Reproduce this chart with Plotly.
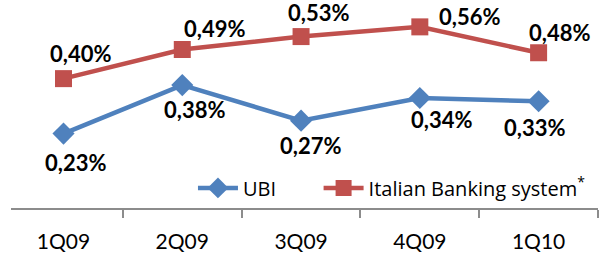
import plotly.graph_objects as go

quarters = ["1Q09", "2Q09", "3Q09", "4Q09", "1Q10"]
ubi = [0.23, 0.38, 0.27, 0.34, 0.33]
italian = [0.40, 0.49, 0.53, 0.56, 0.48]
ubi_labels = ["0,23%", "0,38%", "0,27%", "0,34%", "0,33%"]
italian_labels = ["0,40%", "0,49%", "0,53%", "0,56%", "0,48%"]

# label placement offsets (pixels) relative to each point
ubi_off = [(12, -29), (12, -24), (9, -25), (22, -21), (-4, -26)]
ita_off = [(17, 25), (32, 21), (17, 24), (50, 10), (21, 20)]

BLUE = "#4F81BD"
RED = "#C0504D"
FONT = "Lato, Carlito, Calibri, sans-serif"
LEG_FONT = dict(family="Open Sans, sans-serif", size=20, color="black")

fig = go.Figure()
fig.add_trace(go.Scatter(
    x=quarters, y=ubi, name="UBI", mode="lines+markers",
    line=dict(color=BLUE, width=4.5),
    marker=dict(symbol="diamond", size=17, color=BLUE),
    legend="legend",
))
fig.add_trace(go.Scatter(
    x=quarters, y=italian, name="Italian Banking system<sup>*</sup>",
    mode="lines+markers",
    line=dict(color=RED, width=4.5),
    marker=dict(symbol="square", size=17, color=RED),
    legend="legend2",
))

for q, v, t, (dx, dy) in zip(quarters, ubi, ubi_labels, ubi_off):
    fig.add_annotation(x=q, y=v, text=t, showarrow=False, xshift=dx, yshift=dy,
                       font=dict(family=FONT, size=22, color="black", weight="bold"))
for q, v, t, (dx, dy) in zip(quarters, italian, italian_labels, ita_off):
    fig.add_annotation(x=q, y=v, text=t, showarrow=False, xshift=dx, yshift=dy,
                       font=dict(family=FONT, size=22, color="black", weight="bold"))

fig.update_layout(
    width=606, height=259,
    margin=dict(l=11, r=8, t=1, b=51),
    paper_bgcolor="white", plot_bgcolor="white",
    showlegend=True,
    legend=dict(orientation="h", x=0.31, y=0.097, xanchor="left", yanchor="middle",
                font=LEG_FONT, bgcolor="rgba(0,0,0,0)", itemwidth=40),
    legend2=dict(orientation="h", x=0.524, y=0.097, xanchor="left", yanchor="middle",
                 font=LEG_FONT, bgcolor="rgba(0,0,0,0)", itemwidth=40),
    xaxis=dict(type="category", range=[-0.442, 4.5], showgrid=False,
               showline=True, linecolor="#8C8C8C", linewidth=2,
               ticks="outside", tickson="boundaries", ticklen=8,
               tickcolor="#8C8C8C", tickwidth=1.5, ticklabelstandoff=14,
               tickfont=dict(family=FONT, size=21, color="black"), zeroline=False),
    yaxis=dict(range=[0, 0.64], visible=False, showgrid=False, zeroline=False),
)

fig.write_html("out.html", config={"displayModeBar": False},
               post_script="document.body.style.margin='0';document.body.style.overflow='hidden';")
